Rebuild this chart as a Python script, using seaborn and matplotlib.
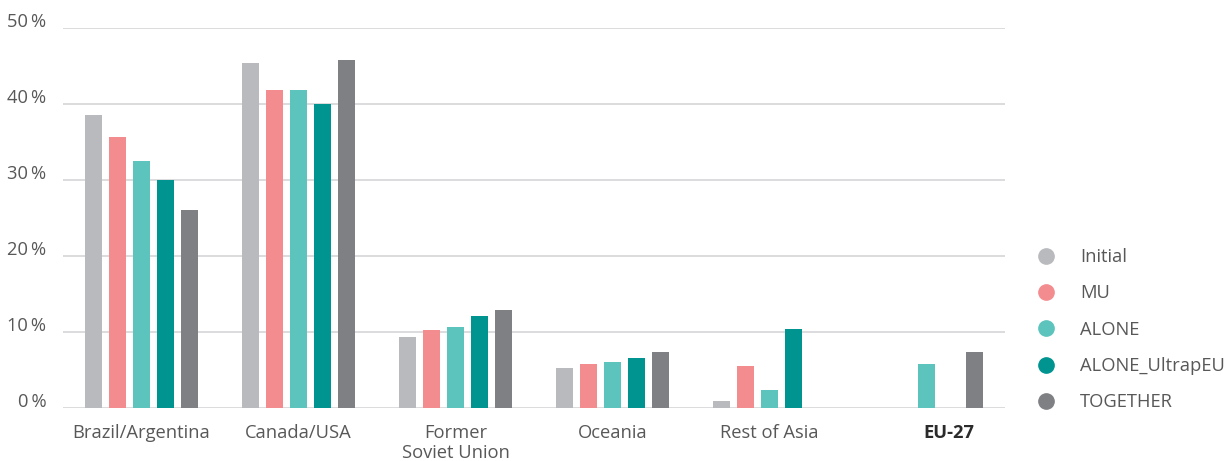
import numpy as np
import pandas as pd
import matplotlib
matplotlib.use("Agg")
import matplotlib.pyplot as plt
from matplotlib.lines import Line2D
from matplotlib.transforms import ScaledTranslation
import seaborn as sns

# Regions and scenario shares (% of supply)
regions = ["Brazil/Argentina", "Canada/USA", "Former\nSoviet Union",
           "Oceania", "Rest of Asia", "EU-27"]
scenarios = ["Initial", "MU", "ALONE", "ALONE_UltrapEU", "TOGETHER"]

initial = [38.6, 45.5, 9.35, 5.3, 0.9, np.nan]
mu = [35.7, 41.9, 10.35, 5.8, 5.6, np.nan]
alone = [32.6, 41.9, 10.65, 6.1, 2.4, 5.85]
alone_ultrap = [30.0, 40.1, 12.2, 6.6, 10.45, np.nan]
together = [26.1, 45.8, 12.9, 7.35, np.nan, 7.35]

y_ticks = [0, 10, 20, 30, 40, 50]
y_tick_labels = ["0\u2009%", "10\u2009%", "20\u2009%", "30\u2009%", "40\u2009%", "50\u2009%"]

palette = {
    "Initial": "#B9BABE",
    "MU": "#F38C8F",
    "ALONE": "#5CC4BC",
    "ALONE_UltrapEU": "#009490",
    "TOGETHER": "#7F8084",
}

series = {"Initial": initial, "MU": mu, "ALONE": alone,
          "ALONE_UltrapEU": alone_ultrap, "TOGETHER": together}
rows = []
for name, vals in series.items():
    for reg, v in zip(regions, vals):
        rows.append({"region": reg, "scenario": name, "share": v})
df = pd.DataFrame(rows).dropna()

sns.set_theme(style="white")
plt.rcParams["font.family"] = ["Open Sans", "DejaVu Sans"]

fig = plt.figure(figsize=(12.32, 4.61), dpi=100)
ax = fig.add_axes([0.0511, 0.1143, 0.7646, 0.8243])

sns.barplot(data=df, x="region", y="share", hue="scenario",
            order=regions, hue_order=scenarios, palette=palette,
            errorbar=None, width=0.76, gap=0.3, saturation=1,
            linewidth=0, ax=ax, legend=False, zorder=3)

ax.set_xlim(-0.5, len(regions) - 0.5)
ax.set_ylim(0, 50)
ax.set_yticks(y_ticks)
ax.set_yticklabels(y_tick_labels)
ax.grid(axis="y", color="#DCDCDE", linewidth=1.4, zorder=0)
ax.grid(axis="x", visible=False)
ax.set_axisbelow(True)
for s in ax.spines.values():
    s.set_visible(False)
ax.set_xlabel("")
ax.set_ylabel("")

ax.tick_params(axis="y", length=0, pad=12, labelsize=13.2, labelcolor="#585858")
ax.tick_params(axis="x", length=0, pad=11, labelsize=13.2, labelcolor="#585858")

for lab in ax.get_yticklabels():
    lab.set_verticalalignment("baseline")
    lab.set_transform(lab.get_transform() +
                      ScaledTranslation(0, 1 / 100, fig.dpi_scale_trans))

xlabels = ax.get_xticklabels()
for lab in xlabels:
    lab.set_linespacing(1.2)
eu = xlabels[-1]
eu.set_fontweight("bold")
eu.set_color("#2B2B2B")
eu.set_transform(eu.get_transform() +
                 ScaledTranslation(22 / 100, 0, fig.dpi_scale_trans))

handles = [Line2D([0], [0], marker="o", linestyle="", markersize=11,
                  markerfacecolor=palette[s], markeredgecolor=palette[s])
           for s in scenarios]
leg = fig.legend(handles, scenarios, loc="upper left",
                 bbox_to_anchor=(0.836, 0.478), frameon=False,
                 fontsize=13.2, labelspacing=1.0, handletextpad=1.35,
                 handlelength=1.0, borderaxespad=0)
for t in leg.get_texts():
    t.set_color("#585858")

fig.savefig("out.png", dpi=100)
